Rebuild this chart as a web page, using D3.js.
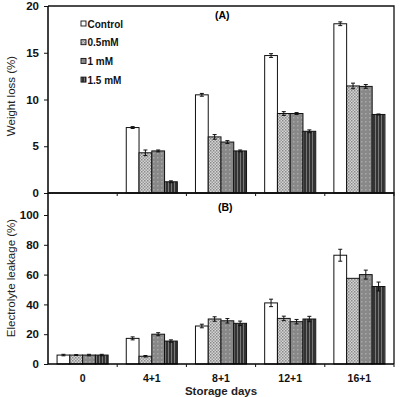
<!DOCTYPE html>
<html><head><meta charset="utf-8">
<script src="https://cdn.jsdelivr.net/npm/d3@7"></script>
<style>body{margin:0;background:#fff}svg{display:block}text{font-family:"Liberation Sans",Arial,sans-serif}</style>
</head><body>
<svg id="c" width="400" height="397"></svg>
<script>
const categories = ["0","4+1","8+1","12+1","16+1"];
const series = ["Control","0.5mM","1 mM","1.5 mM"];
const weightLoss = {
  "Control": [null, 7.0, 10.5, 14.7, 18.1],
  "0.5mM":   [null, 4.3, 6.0, 8.5, 11.45],
  "1 mM":    [null, 4.5, 5.45, 8.5, 11.4],
  "1.5 mM":  [null, 1.2, 4.5, 6.6, 8.4]
};
const weightLossErr = {
  "Control": [0, 0.1, 0.15, 0.2, 0.2],
  "0.5mM":   [0, 0.3, 0.25, 0.2, 0.3],
  "1 mM":    [0, 0.1, 0.15, 0.1, 0.2],
  "1.5 mM":  [0, 0.1, 0.1, 0.15, 0.05]
};
const leakage = {
  "Control": [6, 17.2, 25.5, 41, 73],
  "0.5mM":   [6, 5.2, 30.2, 30.6, 57.5],
  "1 mM":    [6, 20, 29, 28.4, 60],
  "1.5 mM":  [6, 15.4, 27.3, 30.2, 52]
};
const leakageErr = {
  "Control": [0.5, 1, 1.2, 2.5, 4],
  "0.5mM":   [0.3, 0.5, 1.5, 1.5, 0],
  "1 mM":    [0.5, 1, 1.5, 1.5, 3],
  "1.5 mM":  [0.5, 0.8, 1.5, 1.8, 3]
};
const ticksA = [0,5,10,15,20];
const ticksB = [0,20,40,60,80,100];

const svg = d3.select("#c");
const defs = svg.append("defs");
const p1 = defs.append("pattern").attr("id","p05").attr("width",3).attr("height",3).attr("patternUnits","userSpaceOnUse");
p1.append("rect").attr("width",3).attr("height",3).attr("fill","#d4d4d4");
p1.append("rect").attr("width",1.5).attr("height",1.5).attr("fill","#8a8a8a");
p1.append("rect").attr("x",1.5).attr("y",1.5).attr("width",1.5).attr("height",1.5).attr("fill","#9a9a9a");
const p2 = defs.append("pattern").attr("id","p1").attr("width",4).attr("height",4).attr("patternUnits","userSpaceOnUse");
p2.append("rect").attr("width",4).attr("height",4).attr("fill","#888");
p2.append("rect").attr("x",1).attr("y",1).attr("width",1.5).attr("height",1.5).attr("fill","#a8a8a8");
const p3 = defs.append("pattern").attr("id","p15").attr("width",3).attr("height",3).attr("patternUnits","userSpaceOnUse");
p3.append("rect").attr("width",3).attr("height",3).attr("fill","#333");
p3.append("rect").attr("width",1).attr("height",3).attr("fill","#777");
const fills = {"Control":"#fff","0.5mM":"url(#p05)","1 mM":"url(#p1)","1.5 mM":"url(#p15)"};

const L = 48, R = 394;
const x0 = d3.scaleBand().domain(categories).range([L, R]).paddingInner(0).paddingOuter(0);
const x1 = d3.scaleBand().domain(series).range([0, x0.bandwidth()]).paddingInner(0).paddingOuter(0.71);

const yA = d3.scaleLinear().domain([0,20]).range([193, 6]);
const yB = d3.scaleLinear().domain([0,100]).range([364, 215]);

function panel(y, data, err, ticks, topY, label, labelX, labelY, title, titleY) {
  const g = svg.append("g");
  series.forEach(s => {
    categories.forEach((c, i) => {
      const v = data[s][i];
      if (v == null) return;
      const bx = x0(c) + x1(s);
      g.append("rect").attr("x", bx).attr("y", y(v)).attr("width", x1.bandwidth()).attr("height", y(0) - y(v))
        .attr("fill", fills[s]).attr("stroke", "#111").attr("stroke-width", 1);
      const e = err[s][i];
      if (e > 0) {
        const cx = bx + x1.bandwidth()/2;
        g.append("path").attr("d", `M${cx-2},${y(v+e)}H${cx+2}M${cx},${y(v+e)}V${y(v-e)}M${cx-2},${y(v-e)}H${cx+2}`)
          .attr("stroke","#111").attr("stroke-width",1).attr("fill","none");
      }
    });
  });
  g.append("path").attr("d", `M${L},${topY}H${R}V${y(0)}`).attr("stroke","#111").attr("stroke-width",1.3).attr("fill","none");
  const ya = g.append("g").attr("transform", `translate(${L},0)`)
    .call(d3.axisLeft(y).tickValues(ticks).tickSize(4).tickPadding(5));
  ya.select(".domain").attr("d", `M0,${topY}V${y(0)}`).attr("stroke-width",1.5);
  ya.selectAll("text").attr("font-size", 11.5).attr("font-weight","bold").attr("fill","#111");
  ya.selectAll("line").attr("stroke","#111");
  const xa = g.append("g").attr("transform", `translate(0,${y(0)})`)
    .call(d3.axisBottom(x0).tickSize(0).tickFormat(""));
  xa.select(".domain").attr("d", `M${L},0H${R}`).attr("stroke-width",1.5);
  categories.forEach((c,i) => {
    if (i === 0) return;
    g.append("line").attr("x1", x0(c)).attr("x2", x0(c)).attr("y1", y(0)).attr("y2", y(0)+3).attr("stroke","#111");
  });
  g.append("line").attr("x1", R).attr("x2", R).attr("y1", y(0)).attr("y2", y(0)+3).attr("stroke","#111");
  g.append("text").attr("x", labelX).attr("y", labelY).attr("font-size", 10.5).attr("font-weight","bold").text(label);
  g.append("text").attr("transform", `translate(15,${titleY}) rotate(-90)`).attr("text-anchor","middle")
    .attr("font-size", 11.5).attr("fill","#222").text(title);
}

panel(yA, weightLoss, weightLossErr, ticksA, 6, "(A)", 215, 19, "Weight loss (%)", 96);
panel(yB, leakage, leakageErr, ticksB, 193, "(B)", 218, 211, "Electrolyte leakage (%)", 278);

svg.append("g").selectAll("text").data(categories).join("text")
  .attr("x", d => x0(d) + x0.bandwidth()/2).attr("y", 382).attr("text-anchor","middle")
  .attr("font-size", 10.5).attr("font-weight","bold").attr("fill","#111").text(d => d);
svg.append("text").attr("x", 221).attr("y", 395).attr("text-anchor","middle")
  .attr("font-size", 11.5).attr("font-weight","bold").attr("fill","#222").text("Storage days");

const lg = svg.append("g");
series.forEach((s, i) => {
  const yy = 24 + i * 18.7;
  lg.append("rect").attr("x", 81).attr("y", yy - 3).attr("width", 5).attr("height", 5)
    .attr("fill", fills[s]).attr("stroke","#111").attr("stroke-width",0.9);
  lg.append("text").attr("x", 87.5).attr("y", yy + 3.5).attr("font-size", 10).attr("font-weight","bold").attr("fill","#111").text(s);
});
</script>
</body></html>
